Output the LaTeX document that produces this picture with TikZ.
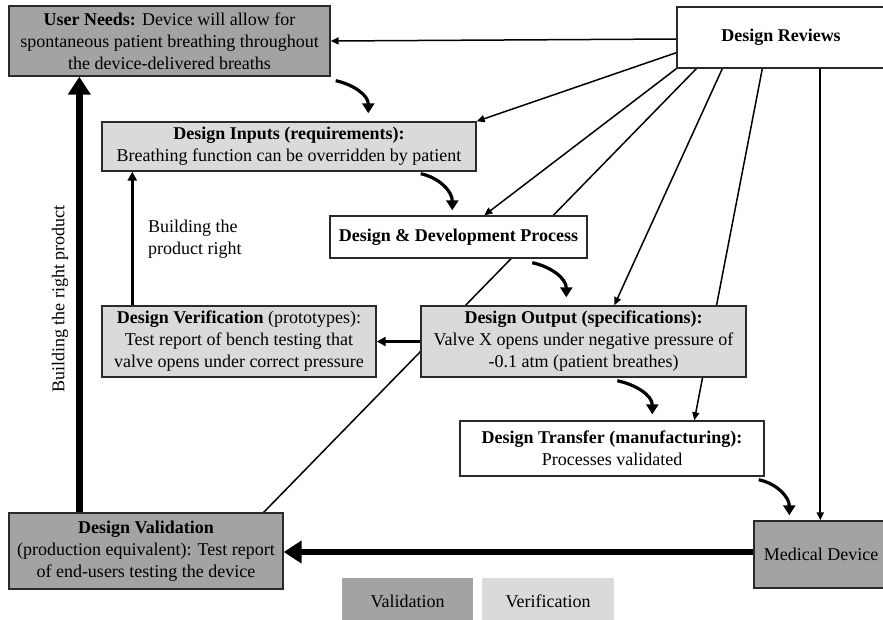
\documentclass[tikz,border=0pt]{standalone}
\usepackage{fontspec}
\setmainfont{Liberation Serif}
\usetikzlibrary{arrows.meta,calc,backgrounds}

\definecolor{valgray}{HTML}{A3A3A3}
\definecolor{vergray}{HTML}{DADADA}
\definecolor{edge}{HTML}{2A2A2A}

\tikzset{
  box/.style={draw=edge, line width=1.4pt, inner sep=0pt, align=center,
    font=\fontsize{18}{22}\selectfont},
  valbox/.style={box, fill=valgray},
  verbox/.style={box, fill=vergray},
  plainbox/.style={box, fill=white},
  legendbox/.style={inner sep=0pt, align=center, font=\fontsize{18}{22}\selectfont},
  review/.style={line width=1.5pt, -{Triangle[length=8pt,width=7pt]}},
  reviewline/.style={line width=1.5pt},
  flow/.style={line width=3.2pt, -{Triangle[length=10pt,width=12pt]}},
  medarrow/.style={line width=2.4pt, -{Triangle[length=9pt,width=9pt]}},
  bigarrow/.style={line width=6.5pt, -{Triangle[length=18pt,width=22pt]}},
  note/.style={font=\fontsize{18}{22}\selectfont, inner sep=0pt},
}

\begin{document}
\begin{tikzpicture}[x=1pt,y=-1pt]
\useasboundingbox (0,0) rectangle (883,619);

% process boxes
\node[valbox, minimum width=321pt, minimum height=70pt] (UN) at (169.5,41)
  {\textbf{User Needs:} Device will allow for\\spontaneous patient breathing throughout\\the device-delivered breaths};
\node[plainbox, minimum width=208pt, minimum height=61pt] (DR) at (781,37.5)
  {\textbf{Design Reviews}};
\node[verbox, minimum width=374pt, minimum height=49pt] (DI) at (289,146.5)
  {\textbf{Design Inputs (requirements):}\\Breathing function can be overridden by patient};
\node[plainbox, minimum width=257pt, minimum height=42pt] (DD) at (458.5,237)
  {\textbf{Design \& Development Process}};
\node[verbox, minimum width=274pt, minimum height=71pt] (DV) at (239,341.5)
  {\textbf{Design Verification} (prototypes):\\Test report of bench testing that\\valve opens under correct pressure};
\node[verbox, minimum width=325pt, minimum height=71pt] (DO) at (583.5,341.5)
  {\textbf{Design Output (specifications):}\\Valve X opens under negative pressure of\\-0.1 atm (patient breathes)};
\node[plainbox, minimum width=304pt, minimum height=55pt] (DT) at (612,448.5)
  {\textbf{Design Transfer (manufacturing):}\\Processes validated};
\node[valbox, minimum width=134pt, minimum height=67pt] (MD) at (821,554.5)
  {Medical Device};
\node[valbox, minimum width=274pt, minimum height=76pt] (DVal) at (146,551)
  {\textbf{Design Validation}\\(production equivalent): Test report\\of end-users testing the device};

% legend
\node[legendbox, fill=valgray, minimum width=131pt, minimum height=46pt] (LVal) at (407.5,601) {Validation};
\node[legendbox, fill=vergray, minimum width=132pt, minimum height=46pt] (LVer) at (548,601) {Verification};

% review links, kept under the boxes they cross
\begin{scope}[on background layer]
  \draw[review] ($(DR.west)+(0,1.5)$) -- (UN.east);
  \draw[review] ($(DR.south west)+(0,-16)$) -- (DI.north east);
  \draw[review] (DR.south west) -- ($(DD.north west)+(155,0)$);
  \draw[reviewline] ($(DR.south west)+(20,0)$) -- ($(DVal.north east)+(-20,0)$);
  \draw[review] ($(DR.south west)+(46,0)$) -- ($(DO.north west)+(194,0)$);
  \draw[review] ($(DR.south west)+(86,0)$) -- ($(DT.north west)+(235,0)$);
  \coordinate (mdtop) at ($(DR.south west)+(144,0)$);
  \draw[review, line width=2pt] (mdtop) -- (mdtop |- MD.north);
\end{scope}

% design flow
\draw[flow] ($(UN.south east)+(5,4)$) to[out=-12,in=90] ($(DI.north west)+(267,-8)$);
\draw[flow] ($(DI.south east)+(-56,2)$) to[out=-12,in=90] ($(DD.north west)+(123,-5)$);
\draw[flow] ($(DD.south west)+(203,4)$) to[out=-12,in=90] ($(DO.north west)+(146,-8)$);
\draw[flow] ($(DO.south west)+(197,3)$) to[out=-12,in=90] ($(DT.north west)+(193,-6)$);
\draw[flow] ($(DT.south east)+(-6,3)$) to[out=-12,in=90] ($(MD.north west)+(36,-5)$);

% verification and validation
\draw[medarrow] (DO.west) -- (DV.east);
\coordinate (dvtop) at ($(DV.north west)+(31,0)$);
\draw[medarrow] (dvtop) -- (dvtop |- DI.south);
\coordinate (dvaltop) at ($(DVal.north west)+(71,0)$);
\draw[bigarrow] (dvaltop) -- (dvaltop |- UN.south);
\draw[bigarrow] (MD.west |- 0,552) -- (DVal.east |- 0,552);

% side labels
\node[note, align=left, anchor=west] (lblright) at (148,239) {Building the\\product right};
\node[note, rotate=90] (lblproduct) at (60,299) {Building the right product};
\end{tikzpicture}
\end{document}
